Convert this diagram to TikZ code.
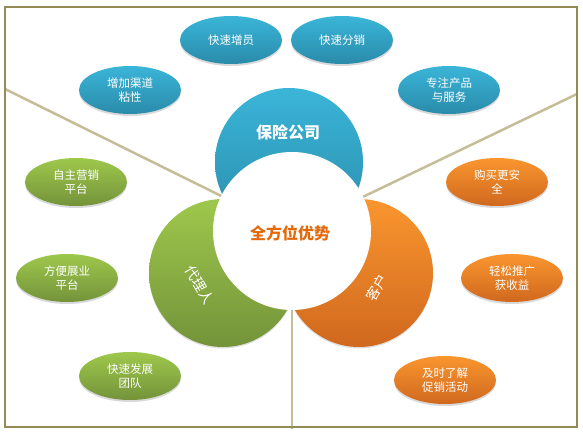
\documentclass[tikz,border=0pt]{standalone}
\usepackage{fontspec}
\newfontfamily\cjk{Noto Sans CJK SC}
\usetikzlibrary{shapes.geometric, shadows}
\definecolor{frameolive}{HTML}{948A54}
\definecolor{spoke}{HTML}{C4BD97}
\definecolor{bluetop}{HTML}{3AB5D8}
\definecolor{bluebot}{HTML}{2A8BAA}
\definecolor{greentop}{HTML}{9EC84C}
\definecolor{greenbot}{HTML}{74933A}
\definecolor{orangetop}{HTML}{FA962F}
\definecolor{orangebot}{HTML}{D0681E}
\definecolor{titleorange}{HTML}{E4690A}

\tikzset{
  bubble/.style={ellipse, minimum width=102pt, minimum height=48pt, inner sep=0pt,
    align=center, text=white, font=\cjk\fontsize{11.5}{14.5}\selectfont,
    drop shadow={opacity=0.3, shadow xshift=0pt, shadow yshift=-2pt}},
  bluebubble/.style={bubble, top color=bluetop, bottom color=bluebot},
  greenbubble/.style={bubble, top color=greentop, bottom color=greenbot},
  orangebubble/.style={bubble, top color=orangetop, bottom color=orangebot},
  petal/.style={circle, minimum size=148pt, inner sep=0pt,
    drop shadow={opacity=0.25, shadow xshift=0pt, shadow yshift=-1.5pt}},
  petaltext/.style={text=white, font=\cjk\fontsize{14}{16}\selectfont},
  spokeline/.style={draw=spoke, line width=2.5pt},
}

\begin{document}
\begin{tikzpicture}[x=1pt, y=1pt]
    \useasboundingbox (0,0) rectangle (583,434);
    \coordinate (mid) at (292,203);
    \coordinate (nw) at (5,345);
    \coordinate (ne) at (577,340);
    \coordinate (south) at (292,5);

    % Spokes behind the petals
    \draw[spokeline] (mid) -- (nw);
    \draw[spokeline] (mid) -- (ne);
    \draw[spokeline] (mid) -- (south);

    % Three petals and the hub
    \node[petal, top color=bluetop, bottom color=bluebot] (insurer) at (289,272) {};
    \node[petal, top color=greentop, bottom color=greenbot] (agent) at (223,161) {};
    \node[petal, top color=orangetop, bottom color=orangebot] (client) at (359,161) {};
    \node[circle, fill=white, minimum size=158pt, inner sep=0pt] (hub) at (mid) {};
    \node[text=titleorange, font=\cjk\bfseries\fontsize{16}{18}\selectfont] (hubtext) at (290,201) {全方位优势};
    \node[petaltext, font=\cjk\bfseries\fontsize{16}{18}\selectfont] (insurertext) at (288,302) {保险公司};
    \node[petaltext, rotate=-60] (agenttext) at (200,149) {代理人};
    \node[petaltext, rotate=60] (clienttext) at (377,146) {客户};

    % Insurer side
    \node[bluebubble] (staff) at (231,394) {快速增员};
    \node[bluebubble] (sales) at (342,394) {快速分销};
    \node[bluebubble] (loyal) at (130,344) {增加渠道\\粘性};
    \node[bluebubble] (focus) at (449,344) {专注产品\\与服务};

    % Agent side
    \node[greenbubble] (ownplat) at (76,252) {自主营销\\平台};
    \node[greenbubble] (easyplat) at (67,156) {方便展业\\平台};
    \node[greenbubble] (team) at (130,58) {快速发展\\团队};

    % Client side
    \node[orangebubble] (safe) at (497,252) {购买更安\\全};
    \node[orangebubble] (promote) at (512,156) {轻松推广\\获收益};
    \node[orangebubble] (events) at (445,54) {及时了解\\促销活动};

    \draw[frameolive, line width=2pt] (5,7) rectangle (577,427);
\end{tikzpicture}
\end{document}
